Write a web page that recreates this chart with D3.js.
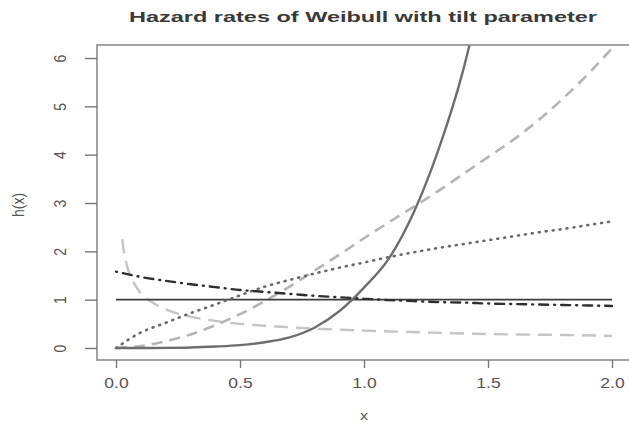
<!DOCTYPE html>
<html>
<head>
<meta charset="utf-8">
<script src="https://cdn.jsdelivr.net/npm/d3@7"></script>
<style>
  html, body { margin: 0; padding: 0; background: #ffffff; }
  svg { display: block; }
  text { font-family: "Liberation Sans", Arial, Helvetica, sans-serif; }
</style>
</head>
<body>
<svg id="chart" width="629" height="426"></svg>
<script>
// ---------- data ----------
const titleText = "Hazard rates of Weibull with tilt parameter";
const xLabel = "x";
const yLabel = "h(x)";
const xTicks = [0, 0.5, 1, 1.5, 2];
const xTickLabels = ["0.0", "0.5", "1.0", "1.5", "2.0"];
const yTicks = [0, 1, 2, 3, 4, 5, 6];
const yTickLabels = ["0", "1", "2", "3", "4", "5", "6"];

const xGrid = [0, 0.1, 0.2, 0.3, 0.4, 0.5, 0.6, 0.7, 0.8, 0.9, 1.0,
               1.1, 1.2, 1.3, 1.4, 1.5, 1.6, 1.7, 1.8, 1.9, 2.0];

// solid grey, steeply increasing
const solidX = [0, 0.1, 0.2, 0.3, 0.4, 0.5, 0.6, 0.7, 0.8, 0.9, 1.0, 1.1, 1.2, 1.3, 1.4, 1.45];
const solidY = [0, 0, 0.002, 0.01, 0.03, 0.06, 0.12, 0.22, 0.42, 0.76, 1.25, 1.85, 2.8, 4.1, 5.75, 6.8];

// light grey dashed, increasing convex
const dashedY = [0, 0.04, 0.14, 0.28, 0.47, 0.7, 0.97, 1.27, 1.6, 1.93, 2.27,
                 2.6, 2.92, 3.25, 3.6, 3.95, 4.3, 4.7, 5.15, 5.65, 6.2];

// black solid, constant
const flatY = [1, 1, 1, 1, 1, 1, 1, 1, 1, 1, 1, 1, 1, 1, 1, 1, 1, 1, 1, 1, 1];

// dark dotted, increasing concave
const dottedY = [0, 0.32, 0.52, 0.72, 0.9, 1.09, 1.27, 1.41, 1.54, 1.66, 1.77,
                 1.88, 1.98, 2.07, 2.15, 2.23, 2.31, 2.39, 2.46, 2.54, 2.62];

// black dot-dash, slowly decreasing
const dotdashY = [1.58, 1.47, 1.39, 1.32, 1.26, 1.2, 1.16, 1.12, 1.08, 1.05, 1.02,
                  0.99, 0.97, 0.95, 0.94, 0.92, 0.91, 0.9, 0.89, 0.88, 0.87];

// light grey long-dash, decreasing
const longX = [0.025, 0.03, 0.05, 0.075, 0.1, 0.15, 0.2, 0.3, 0.4, 0.5, 0.6, 0.7, 0.8, 0.9, 1.0, 1.2, 1.4, 1.6, 1.8, 2.0];
const longY = [2.25, 2.05, 1.6, 1.32, 1.13, 0.93, 0.8, 0.65, 0.56, 0.5, 0.46, 0.43, 0.4, 0.38, 0.36, 0.33, 0.3, 0.28, 0.27, 0.25];

// ---------- drawing ----------
const svg = d3.select("#chart");
const box = { left: 97, top: 45, right: 632, bottom: 360 };

const x = d3.scaleLinear().domain([0, 2]).range([116, 612]);
const y = d3.scaleLinear().domain([0, 6]).range([348, 58]);

svg.append("defs").append("clipPath").attr("id", "plotclip")
  .append("rect")
  .attr("x", box.left).attr("y", box.top)
  .attr("width", box.right - box.left).attr("height", box.bottom - box.top);

const zip = (xs, ys) => xs.map((v, i) => [v, ys[i]]);
const line = d3.line().x(d => x(d[0])).y(d => y(d[1])).curve(d3.curveMonotoneX);

const series = [
  { pts: zip(longX, longY),   color: "#c4c4c4", width: 2.4, dash: "14,8", cap: "butt" },
  { pts: zip(xGrid, dashedY), color: "#b4b4b4", width: 2.6, dash: "11,7", cap: "butt" },
  { pts: zip(xGrid, flatY),   color: "#3c3c3c", width: 1.6, dash: null,   cap: "butt" },
  { pts: zip(xGrid, dottedY), color: "#6a6a6a", width: 2.6, dash: "1,6",  cap: "round" },
  { pts: zip(xGrid, dotdashY),color: "#2e2e2e", width: 2.4, dash: "1,6,9,6", cap: "round" },
  { pts: zip(solidX, solidY), color: "#6e6e6e", width: 2.4, dash: null,   cap: "butt" }
];

const plot = svg.append("g").attr("clip-path", "url(#plotclip)");
series.forEach(s => {
  plot.append("path")
    .attr("d", line(s.pts))
    .attr("fill", "none")
    .attr("stroke", s.color)
    .attr("stroke-width", s.width)
    .attr("stroke-linecap", s.cap)
    .attr("stroke-dasharray", s.dash);
});

// box
svg.append("rect")
  .attr("x", box.left).attr("y", box.top)
  .attr("width", box.right - box.left).attr("height", box.bottom - box.top)
  .attr("fill", "none").attr("stroke", "#8a8a8a").attr("stroke-width", 1.6);

// x axis
const xAxis = d3.axisBottom(x).tickValues(xTicks)
  .tickFormat((d, i) => xTickLabels[i]).tickSize(8).tickSizeOuter(0);
const gx = svg.append("g").attr("transform", `translate(0,${box.bottom})`).call(xAxis);
gx.select(".domain").remove();
gx.selectAll(".tick line").attr("stroke", "#777").attr("stroke-width", 1.4);
gx.selectAll(".tick text")
  .attr("y", 18).attr("dy", "0.71em")
  .attr("font-size", 14).attr("fill", "#555")
  .attr("transform", "scale(1.25,1)");

// y axis
const yAxis = d3.axisLeft(y).tickValues(yTicks)
  .tickFormat((d, i) => yTickLabels[i]).tickSize(12).tickSizeOuter(0);
const gy = svg.append("g").attr("transform", `translate(${box.left},0)`).call(yAxis);
gy.select(".domain").remove();
gy.selectAll(".tick line").attr("stroke", "#777").attr("stroke-width", 1.4);
gy.selectAll(".tick text")
  .attr("x", null).attr("y", null).attr("dy", "0.35em")
  .attr("text-anchor", "middle")
  .attr("font-size", 14).attr("fill", "#555")
  .attr("transform", "translate(-37,0) scale(1.2,1) rotate(-90)");

// title
svg.append("text")
  .attr("x", 363).attr("y", 22)
  .attr("text-anchor", "middle")
  .attr("font-size", 15).attr("font-weight", "bold").attr("fill", "#3a3a3a")
  .attr("textLength", 468).attr("lengthAdjust", "spacingAndGlyphs")
  .text(titleText);

// axis titles
svg.append("text")
  .attr("x", 364).attr("y", 420)
  .attr("text-anchor", "middle")
  .attr("font-size", 13).attr("fill", "#555")
  .attr("transform", "translate(364,0) scale(1.25,1) translate(-364,0)")
  .text(xLabel);

svg.append("text")
  .attr("text-anchor", "middle").attr("dy", "0.35em")
  .attr("font-size", 14).attr("fill", "#555")
  .attr("transform", "translate(18,205) scale(1.2,1) rotate(-90)")
  .text(yLabel);
</script>
</body>
</html>
